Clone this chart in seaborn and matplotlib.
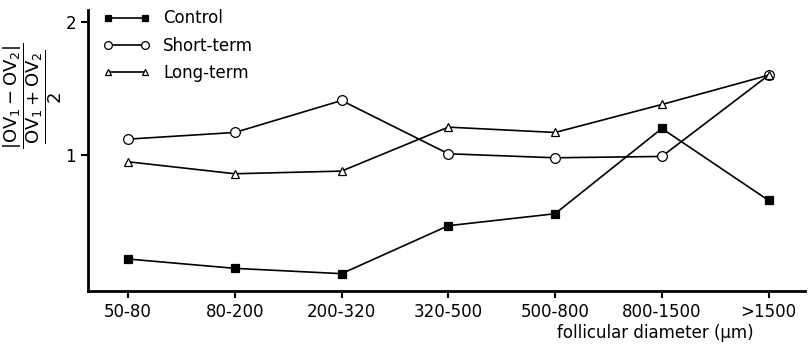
import matplotlib
matplotlib.use("Agg")
import matplotlib.pyplot as plt
import pandas as pd
import seaborn as sns

categories = ["50-80", "80-200", "200-320", "320-500", "500-800", "800-1500", ">1500"]
control = [0.22, 0.15, 0.11, 0.47, 0.56, 1.20, 0.66]
short_term = [1.12, 1.17, 1.41, 1.01, 0.98, 0.99, 1.60]
long_term = [0.95, 0.86, 0.88, 1.21, 1.17, 1.38, 1.60]

sns.set_theme(style="ticks")
plt.rcParams["font.family"] = ["DejaVu Sans"]
plt.rcParams["text.color"] = "black"
plt.rcParams["xtick.color"] = "black"
plt.rcParams["ytick.color"] = "black"

fig = plt.figure(figsize=(8.11, 3.54), dpi=100)
ax = fig.add_axes([0.1085, 0.178, 0.884, 0.794])

pos = list(range(len(categories)))
series = [
    ("Control", control, "s", "black", 6),
    ("Short-term", short_term, "o", "white", 7),
    ("Long-term", long_term, "^", "white", 6),
]
for name, vals, mk, face, ms in series:
    df = pd.DataFrame({"pos": pos, "value": vals})
    sns.lineplot(data=df, x="pos", y="value", ax=ax, color="black", lw=1.2,
                 marker=mk, mfc=face, mec="black", ms=ms, mew=0.9, label=name)

ax.set_xlim(-0.375, 6.34)
ax.set_ylim(-0.02, 2.09)
ax.set_xticks(pos)
ax.set_xticklabels(categories, fontsize=12)
ax.set_yticks([1, 2])
ax.set_yticklabels(["1", "2"], fontsize=12)
ax.tick_params(axis="both", direction="out", length=5, width=1.5, color="black")
for side in ["top", "right"]:
    ax.spines[side].set_visible(False)
for side in ["left", "bottom"]:
    ax.spines[side].set_linewidth(2)
    ax.spines[side].set_color("black")
ax.set_xlabel("")
ax.set_ylabel("")

fig.text(0.04, 0.73,
         r"$\dfrac{|\mathrm{OV_1 - OV_2}|}{\dfrac{\mathrm{OV_1 + OV_2}}{2}}$",
         fontsize=13, rotation=90, ha="center", va="center")

leg = ax.legend(loc="upper left", bbox_to_anchor=(0.0, 1.055), frameon=False,
                numpoints=2, handlelength=2.8, fontsize=12, labelspacing=0.55,
                markerscale=0.8)

fig.text(0.808, 0.045, "follicular diameter (μm)", fontsize=12, ha="center")

fig.savefig("out.png", dpi=100)
